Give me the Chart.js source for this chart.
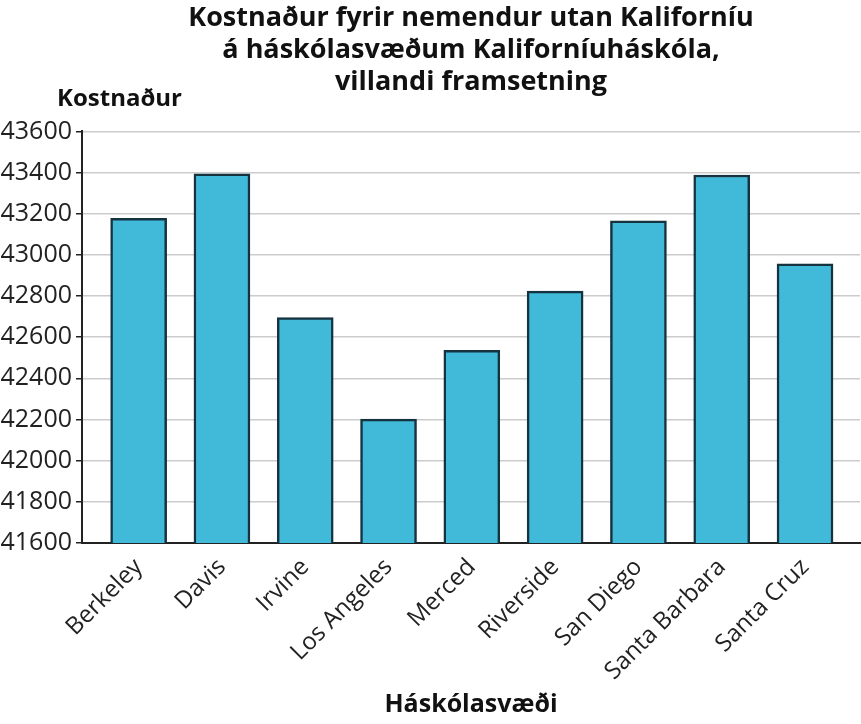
<!DOCTYPE html>
<html>
<head>
<meta charset="utf-8">
<script src="https://cdn.jsdelivr.net/npm/chart.js@4"></script>
<style>
  html, body { margin: 0; padding: 0; background: #fff; }
  #wrap { width: 861px; height: 724px; }
</style>
</head>
<body>
<div id="wrap"><canvas id="chart"></canvas></div>
<script>
const campuses = ["Berkeley", "Davis", "Irvine", "Los Angeles", "Merced", "Riverside", "San Diego", "Santa Barbara", "Santa Cruz"];
const costs = [43178, 43394, 42695, 42202, 42536, 42824, 43166, 43388, 42957];
const yTicks = [41600, 41800, 42000, 42200, 42400, 42600, 42800, 43000, 43200, 43400, 43600];

const titleLines = ["Kostnaður fyrir nemendur utan Kaliforníu", "á háskólasvæðum Kaliforníuháskóla,", "villandi framsetning"];
const yTitle = "Kostnaður";
const xTitle = "Háskólasvæði";

const FONT = "'Open Sans', 'Noto Sans', sans-serif";

// y-axis caption sits horizontally above the axis
const yCaption = {
  id: 'yCaption',
  afterDraw(chart) {
    const { ctx, chartArea } = chart;
    ctx.save();
    ctx.font = "bold 24px " + FONT;
    ctx.fillStyle = '#111';
    ctx.textAlign = 'left';
    ctx.textBaseline = 'middle';
    ctx.fillText(yTitle, chartArea.left - 25, chartArea.top - 32);
    ctx.restore();
  }
};

new Chart(document.getElementById('chart'), {
  type: 'bar',
  data: {
    datasets: [{
      data: costs.map((v, i) => ({ x: i, y: v })),
      backgroundColor: '#41b9d9',
      borderColor: '#15323f',
      borderWidth: 2.5,
      borderSkipped: false,
      barThickness: 56
    }]
  },
  options: {
    responsive: true,
    maintainAspectRatio: false,
    animation: false,
    devicePixelRatio: 1,
    layout: { padding: { right: 1 } },
    plugins: {
      legend: { display: false },
      tooltip: { enabled: false },
      title: {
        display: true,
        text: titleLines,
        fullSize: false,
        color: '#111',
        font: { family: FONT, size: 27, weight: 'bold', lineHeight: 1.19 },
        padding: { top: 2, bottom: 33 }
      }
    },
    scales: {
      x: {
        type: 'linear',
        offset: false,
        min: -0.68,
        max: 8.66,
        afterBuildTicks: axis => { axis.ticks = campuses.map((_, i) => ({ value: i })); },
        afterFit: axis => { axis.height = 181; },
        grid: { display: false, offset: false },
        border: { display: true, color: '#222', width: 2 },
        ticks: {
          autoSkip: false,
          maxRotation: 45,
          minRotation: 45,
          color: '#222',
          padding: 2,
          font: { family: FONT, size: 24 },
          callback: v => campuses[v] ?? ''
        },
        title: {
          display: true,
          text: xTitle,
          color: '#111',
          font: { family: FONT, size: 25, weight: 'bold' },
          padding: { top: 0, bottom: 4 }
        }
      },
      y: {
        min: 41600,
        max: 43600,
        afterBuildTicks: axis => { axis.ticks = yTicks.map(v => ({ value: v })); },
        afterFit: axis => { axis.width = 82; },
        grid: { color: '#cccccc', lineWidth: 1.5, tickLength: 6, tickColor: '#222' },
        border: { display: true, color: '#222', width: 2 },
        ticks: {
          color: '#222',
          padding: 4,
          font: { family: FONT, size: 25 },
          callback: v => String(v)
        }
      }
    }
  },
  plugins: [yCaption]
});
</script>
</body>
</html>
